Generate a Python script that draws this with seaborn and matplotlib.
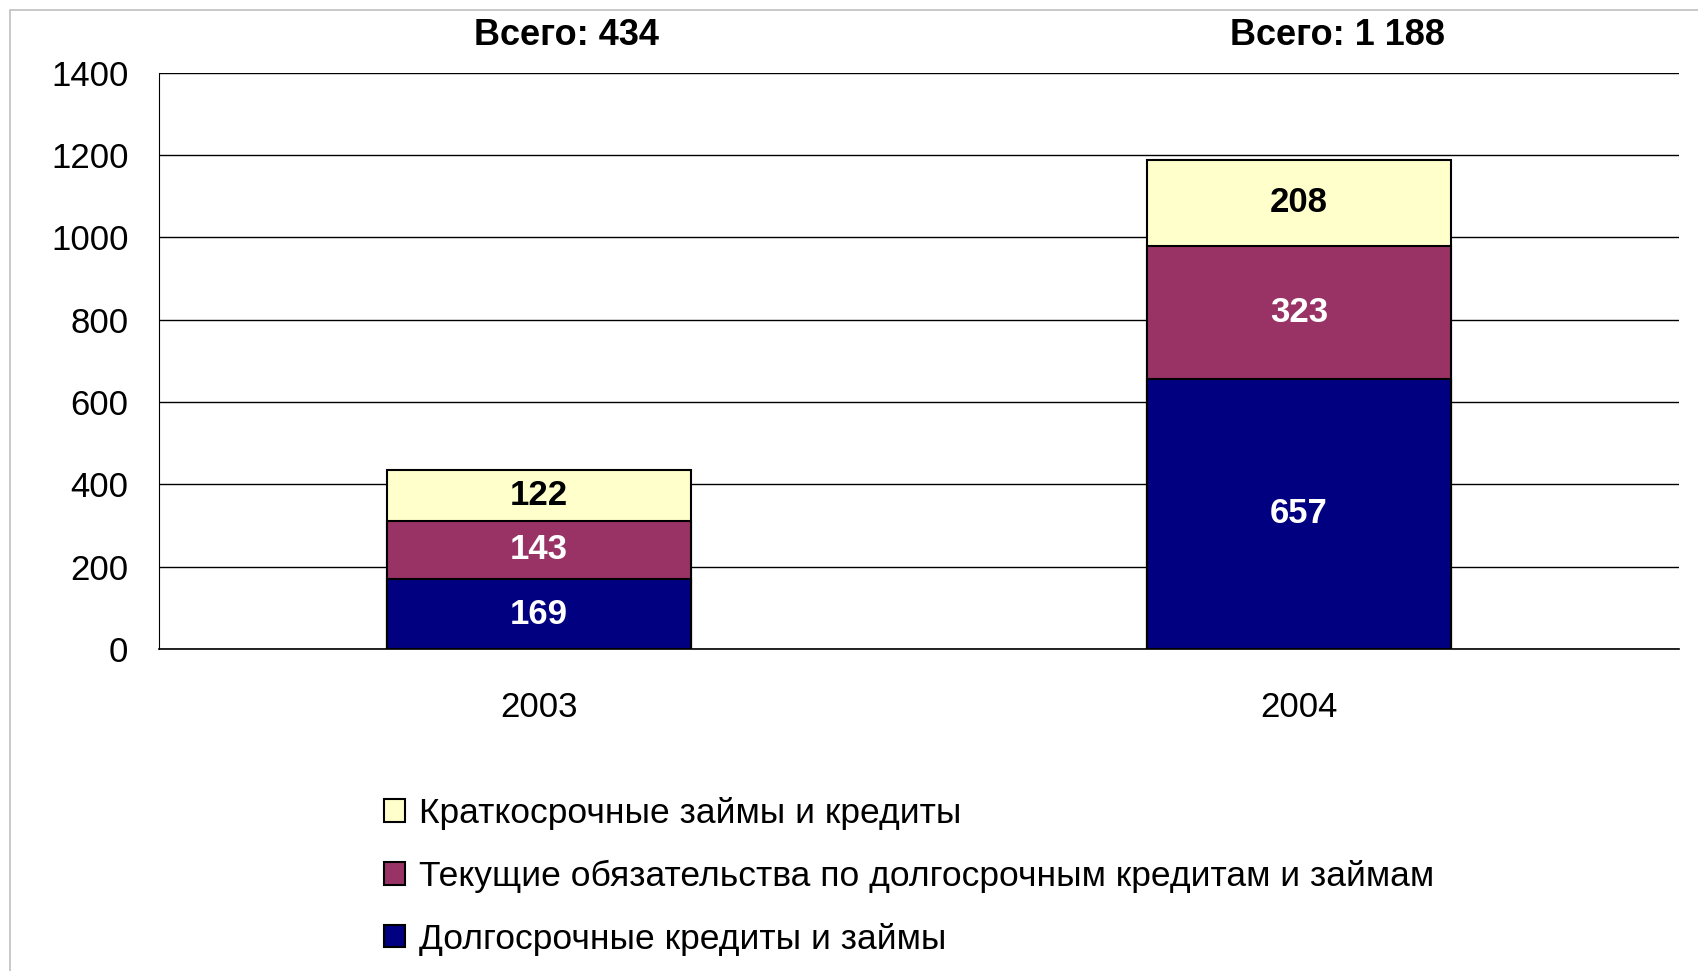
import numpy as np
import pandas as pd
import matplotlib
matplotlib.use("Agg")
import matplotlib.pyplot as plt
import seaborn as sns
from matplotlib.patches import Rectangle

years = ["2003", "2004"]
long_term = [169, 657]
current_part = [143, 323]
short_term = [122, 208]
totals = ["Всего: 434", "Всего: 1 188"]
series_names = ["Краткосрочные займы и кредиты",
                "Текущие обязательства по долгосрочным кредитам и займам",
                "Долгосрочные кредиты и займы"]
colors = ["#FFFFCC", "#993366", "#000080"]
text_colors = ["black", "white", "white"]

sns.set_style("white")
plt.rcParams['font.family'] = ['Liberation Sans', 'DejaVu Sans']
plt.rcParams['text.color'] = 'black'
plt.rcParams['xtick.labelcolor'] = 'black'
plt.rcParams['ytick.labelcolor'] = 'black'

df = pd.DataFrame({"year": years, "long": long_term, "cur": current_part, "short": short_term})
df["c1"] = df["long"]
df["c2"] = df["long"] + df["cur"]
df["c3"] = df["c2"] + df["short"]

fig = plt.figure(figsize=(16.98, 9.71), dpi=100)
fig.patches.append(Rectangle((10 / 1698, -0.1), 1.2, 1 - 10 / 971 + 0.1, transform=fig.transFigure,
                             fill=False, edgecolor="#c0c0c0", linewidth=1.2))
ax = fig.add_axes([159 / 1698, 322 / 971, 1520 / 1698, 0.5936])

# stacked bars: draw cumulative totals from the top down
for col, color, name in zip(["c3", "c2", "c1"], colors, series_names):
    sns.barplot(data=df, x="year", y=col, color=color, width=0.4, edgecolor="black",
                linewidth=1.5, saturation=1, ax=ax, label=name, zorder=3)

ax.set_xlim(-0.5, 1.5)
ax.set_ylim(0, 1400)
ax.set_yticks(range(0, 1401, 200))
ax.yaxis.grid(True, color="black", linewidth=1)
ax.set_axisbelow(True)
ax.set_xlabel("")
ax.set_ylabel("")
sns.despine(ax=ax, top=True, right=True)
ax.spines["left"].set_color("black")
ax.spines["bottom"].set_color("black")
ax.spines["bottom"].set_linewidth(1.2)

ax.set_xticks([-0.5, 0.5, 1.5], labels=["", "", ""])
ax.set_xticks([0, 1], labels=years, minor=True)
ax.tick_params(axis="x", which="major", direction="out", length=7, width=1.2, color="black")
ax.tick_params(axis="x", which="minor", length=0, pad=30, labelsize=25)
ax.tick_params(axis="y", direction="out", length=6, width=1, color="black", pad=16, labelsize=25)

# segment labels
offsets = [0.036, 0.05]
for i in range(len(years)):
    bottoms = [0, long_term[i], long_term[i] + current_part[i]]
    vals = [long_term[i], current_part[i], short_term[i]]
    for b, v, tc in zip(bottoms, vals, text_colors[::-1]):
        ax.text(i, b + v / 2, str(v), ha="center", va="center", color=tc,
                fontsize=25, fontweight="bold", zorder=5)
    ax.text(i + offsets[i], 1.064, totals[i], transform=ax.get_xaxis_transform(), ha="center", va="center",
            fontsize=26, fontweight="bold")

handles, labels = ax.get_legend_handles_labels()
leg = ax.legend(handles, labels, loc="upper left", bbox_to_anchor=(352 / 1698, 0.212), bbox_transform=fig.transFigure,
                frameon=False, fontsize=25.5, handlelength=0.6, handleheight=0.6, handletextpad=0.4,
                labelspacing=0.84)
for h in leg.legend_handles:
    h.set_edgecolor("black")

fig.savefig("out.png", dpi=100)
